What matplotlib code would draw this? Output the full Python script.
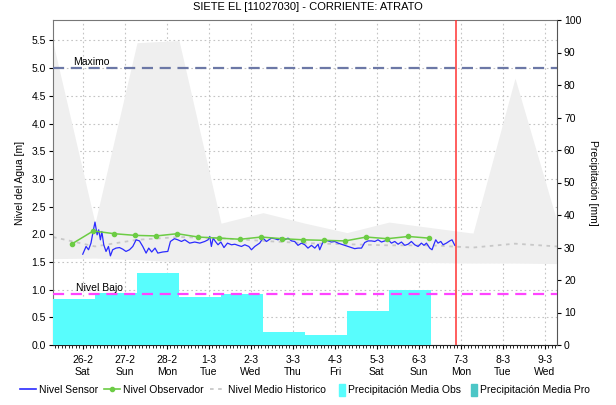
import datetime as dt
import matplotlib
matplotlib.use("Agg")
import matplotlib.pyplot as plt
import matplotlib.dates as mdates
from matplotlib.lines import Line2D
from matplotlib.patches import Patch

# --- data ---
start = dt.datetime(2022, 2, 26)          # 26-2 Sat
now_h = 213                               # red "now" line, hours after start

# sensor level [m], hours after 26-2 00:00
sensor_h = [0, 1.9, 3.3, 4.7, 6.1, 7.0, 8.2, 9.1, 10.1, 10.9,
            12.0, 13.3, 14.7, 15.8, 17.1, 19.0, 21.0, 22.9, 24.7, 26.7,
            28.6, 30.5, 32.4, 34.3, 36.2, 37.7, 39.4, 41.3, 42.9, 45.7,
            48.6, 50.1, 52.4, 54.3, 56.4, 58.3, 61.1, 64.0, 66.9, 69.7,
            71.6, 72.6, 73.5, 74.5, 75.8, 77.3, 78.9, 80.7, 82.7, 85.0,
            86.9, 88.7, 90.7, 92.6, 94.9, 96.4, 98.3, 101.1, 103.0, 105.0,
            107.8, 109.7, 111.6, 113.5, 115.4, 117.3, 119.3, 121.1, 123.0, 125.0,
            126.9, 128.7, 130.7, 132.6, 134.5, 135.4, 137.0, 138.3, 140.2, 142.1,
            144.0, 145.9, 147.8, 149.7, 151.6, 153.5, 155.4, 157.3, 159.3, 161.1,
            163.0, 165.0, 166.9, 168.7, 170.7, 172.6, 174.5, 176.4, 178.3, 180.2,
            182.1, 184.0, 185.9, 187.8, 189.7, 191.6, 193.5, 195.0, 196.4, 198.3,
            199.6, 200.6, 201.7, 203.0, 204.6, 205.9, 207.8, 209.7, 211.0, 212.6]
sensor_m = [1.64, 1.78, 1.72, 1.84, 2.08, 2.22, 1.99, 2.08, 1.90, 2.05,
            1.81, 1.69, 1.78, 1.61, 1.72, 1.75, 1.76, 1.73, 1.69, 1.72,
            1.78, 1.90, 1.88, 1.78, 1.66, 1.75, 1.68, 1.75, 1.66, 1.68,
            1.69, 1.87, 1.92, 1.90, 1.87, 1.90, 1.84, 1.86, 1.84, 1.87,
            1.90, 1.96, 1.78, 1.93, 1.87, 1.81, 1.86, 1.76, 1.84, 1.81,
            1.82, 1.80, 1.78, 1.81, 1.78, 1.72, 1.78, 1.84, 1.93, 1.87,
            1.93, 1.92, 1.90, 1.94, 1.90, 1.93, 1.88, 1.87, 1.80, 1.84,
            1.81, 1.75, 1.80, 1.75, 1.82, 1.72, 1.84, 1.90, 1.88, 1.86,
            1.87, 1.84, 1.82, 1.80, 1.78, 1.76, 1.74, 1.75, 1.75, 1.85,
            1.88, 1.88, 1.87, 1.90, 1.86, 1.88, 1.90, 1.84, 1.87, 1.82,
            1.86, 1.80, 1.82, 1.87, 1.81, 1.78, 1.84, 1.80, 1.84, 1.75,
            1.72, 1.81, 1.90, 1.84, 1.87, 1.81, 1.84, 1.88, 1.90, 1.80]

# observer readings 6:00 / 18:00, first one 25-2 18:00
obs_m = [1.83, 2.06, 2.01, 1.98, 1.97, 2.01, 1.95, 1.93, 1.91,
         1.95, 1.92, 1.90, 1.89, 1.88, 1.95, 1.92, 1.96, 1.93]

# historic band, daily at 07:00 from 25-2 to 9-3
hist_max = [5.46, 2.20, 5.46, 5.50, 2.20, 2.39, 2.20, 2.03, 2.22, 2.12, 2.02, 4.82, 2.23]
hist_min = [1.56, 1.57, 1.54, 1.50, 1.50, 1.50, 1.50, 1.50, 1.50, 1.49, 1.48, 1.48, 1.47]
hist_mean = [1.95, 1.78, 1.90, 1.95, 1.93, 1.88, 1.84, 1.82, 1.80, 1.80, 1.76, 1.83, 1.78]

# daily precipitation [mm], 07:00 -> 07:00, first day starts 25-2 07:00
precip_obs = [14.1, 16.0, 22.1, 14.9, 15.6, 3.9, 3.2, 10.6, 16.8]

nivel_max = 5.0
nivel_bajo = 0.92

tick_days = ['26-2', '27-2', '28-2', '1-3', '2-3', '3-3', '4-3',
             '5-3', '6-3', '7-3', '8-3', '9-3']
tick_wd = ['Sat', 'Sun', 'Mon', 'Tue', 'Wed', 'Thu', 'Fri',
           'Sat', 'Sun', 'Mon', 'Tue', 'Wed']

# --- figure ---
plt.rcParams['font.family'] = ['Liberation Sans', 'DejaVu Sans']
plt.rcParams['font.size'] = 7.5

fig = plt.figure(figsize=(6.16, 4.05), dpi=100)
ax = fig.add_axes([53 / 616, 60 / 405, 504 / 616, 325 / 405])
ax2 = ax.twinx()

t0 = start - dt.timedelta(hours=17)       # 25-2 07:00
hist_t = [t0 + dt.timedelta(days=i) for i in range(len(hist_max))]
sens_t = [start + dt.timedelta(hours=h) for h in sensor_h]
obs_t = [start - dt.timedelta(hours=6) + dt.timedelta(hours=12 * i) for i in range(len(obs_m))]
bar_t = [t0 + dt.timedelta(days=i) for i in range(len(precip_obs))]
now_t = start + dt.timedelta(hours=now_h)

ax.fill_between(hist_t, hist_min, hist_max, color='#efefef', lw=0, zorder=1)
ax.plot(hist_t, hist_mean, color='#c8c8c8', lw=1.3, ls=(0, (2, 2.5)), zorder=2)
ax.plot(sens_t, sensor_m, color='#2b2bff', lw=0.9, zorder=4)
ax.plot(obs_t, obs_m, color='#6ccc44', lw=1.1, marker='o', ms=3, zorder=5)
ax.axhline(nivel_max, color='#6c78a6', lw=1.6, ls=(0, (5, 3)), zorder=3)
ax.text(0.04, nivel_max + 0.03, 'Maximo', transform=ax.get_yaxis_transform(),
        fontsize=7.5, va='bottom')

# precipitation on the right axis
ax2.bar(bar_t, precip_obs, width=1.0, align='edge', color='#58fdfd', lw=0, zorder=1)
ax2.plot([0, 1], [nivel_bajo, nivel_bajo], transform=ax.get_yaxis_transform(),
         color='#ff44ff', lw=1.6, ls=(0, (5, 3)), zorder=3)
ax2.text(0.045, nivel_bajo + 0.02, 'Nivel Bajo', transform=ax.get_yaxis_transform(),
         fontsize=7.5, va='bottom', zorder=4)
ax2.axvline(now_t, color='#ff3333', lw=1.1, zorder=5)

ax.set_xlim(t0, t0 + dt.timedelta(days=12))
ax.set_ylim(0, 5.87)
ax2.set_ylim(0, 100)
ax.set_yticks([0.5 * i for i in range(12)])
ax.set_yticklabels([f'{0.5 * i:.1f}' for i in range(12)])
ax2.set_yticks(range(0, 101, 10))

ticks = [start + dt.timedelta(days=i) for i in range(len(tick_days))]
ax.set_xticks(ticks)
ax.set_xticklabels([f'{d}\n{w}' for d, w in zip(tick_days, tick_wd)], linespacing=1.3)
ax.xaxis.set_minor_locator(mdates.HourLocator(byhour=range(0, 24, 2)))
ax.tick_params(axis='x', which='major', length=3, pad=4)
ax.tick_params(axis='x', which='minor', length=2)
ax.tick_params(axis='y', length=3, pad=2)
ax2.tick_params(axis='y', length=3, pad=2)

ax.grid(True, color='#c4c4c4', ls=(0, (1.5, 2.5)), lw=0.8)
ax.set_axisbelow(True)

for s in ['top', 'left']:
    ax.spines[s].set_color('#777777')
for s in ax2.spines.values():
    s.set_visible(False)
ax2.spines['right'].set_visible(True)
ax2.spines['right'].set_color('#555555')
ax.spines['bottom'].set_color('#222222')
ax.spines['right'].set_visible(False)

ax.set_ylabel('Nivel del Agua [m]', fontsize=7.5, labelpad=5)
ax2.set_ylabel('Precipitación [mm]', fontsize=7.5, rotation=270, labelpad=12)
fig.suptitle('SIETE EL [11027030] - CORRIENTE: ATRATO', fontsize=8, y=0.995)

# legend: lines and patches in two groups so the patch swatches can be narrow
line_handles = [
    Line2D([], [], color='#2b2bff', lw=1.2),
    Line2D([], [], color='#6ccc44', lw=1.2, marker='o', ms=3),
    Line2D([], [], color='#c8c8c8', lw=1.3, ls=(0, (2, 2.5))),
]
line_labels = ['Nivel Sensor', 'Nivel Observador', 'Nivel Medio Historico']
patch_handles = [Patch(color='#58fdfd'), Patch(color='#4cc6c6')]
patch_labels = ['Precipitación Media Obs', 'Precipitación Media Pro']

fig.legend(line_handles, line_labels, loc='center left',
           bbox_to_anchor=(20 / 616, 15 / 405), ncol=3, frameon=False,
           fontsize=7.5, handlelength=1.5, handletextpad=0.3,
           columnspacing=0.6, borderpad=0, borderaxespad=0)
fig.legend(patch_handles, patch_labels, loc='center left',
           bbox_to_anchor=(339 / 616, 15 / 405), ncol=2, frameon=False,
           fontsize=7.5, handlelength=0.6, handleheight=1.4, handletextpad=0.3,
           columnspacing=0.9, borderpad=0, borderaxespad=0)

fig.savefig('out.png', dpi=100)
